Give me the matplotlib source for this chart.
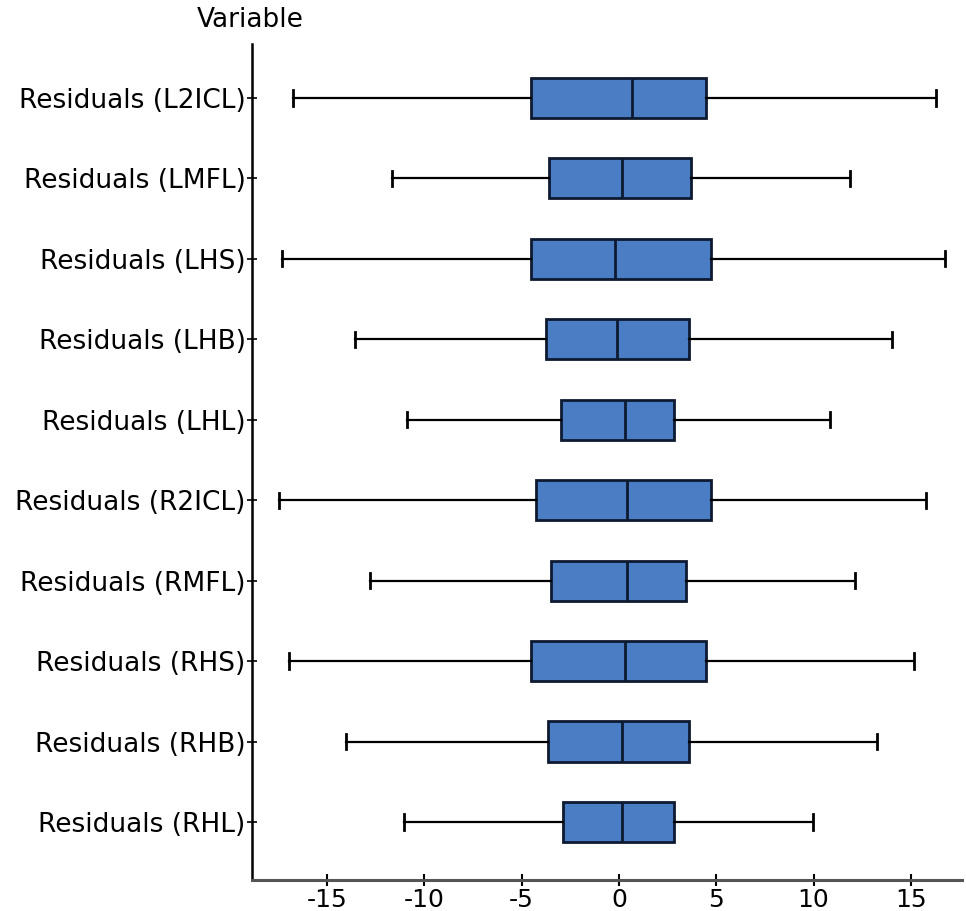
import matplotlib.pyplot as plt
import numpy as np

plt.rcParams['axes.unicode_minus'] = False
plt.rcParams['font.family'] = ['DejaVu Sans']

labels = ['Residuals (L2ICL)', 'Residuals (LMFL)', 'Residuals (LHS)', 'Residuals (LHB)',
          'Residuals (LHL)', 'Residuals (R2ICL)', 'Residuals (RMFL)', 'Residuals (RHS)',
          'Residuals (RHB)', 'Residuals (RHL)']
whislo = [-16.74, -11.65, -17.33, -13.55, -10.91, -17.46, -12.80, -16.96, -14.05, -11.03]
q1 = [-4.51, -3.61, -4.51, -3.75, -2.98, -4.25, -3.49, -4.51, -3.63, -2.88]
med = [0.69, 0.17, -0.19, -0.09, 0.29, 0.43, 0.43, 0.31, 0.17, 0.17]
q3 = [4.47, 3.70, 4.71, 3.58, 2.81, 4.71, 3.46, 4.47, 3.58, 2.81]
whishi = [16.27, 11.85, 16.77, 14.01, 10.86, 15.76, 12.11, 15.14, 13.24, 9.97]
xticks = [-15, -10, -5, 0, 5, 10, 15]

stats = []
for i in range(len(labels)):
    stats.append({'label': labels[i], 'whislo': whislo[i], 'q1': q1[i], 'med': med[i],
                  'q3': q3[i], 'whishi': whishi[i], 'fliers': []})

fig = plt.figure(figsize=(9.66, 9.11), dpi=100)
ax = fig.add_axes([252/966, 31/911, 710/966, 836/911])

pos = np.arange(len(labels))
ax.bxp(stats, positions=pos, vert=False, widths=0.5, capwidths=0.19,
       patch_artist=True, showfliers=False,
       boxprops=dict(facecolor='#4a7dc3', edgecolor='#0d1a30', linewidth=2),
       medianprops=dict(color='#0d1a30', linewidth=2),
       whiskerprops=dict(color='black', linewidth=1.6),
       capprops=dict(color='black', linewidth=2))

ax.set_ylim(len(labels) - 1 + 0.72, -0.67)
ax.set_xlim(-18.86, 17.63)
ax.set_xticks(xticks)
ax.set_xticklabels([str(t) for t in xticks])
ax.set_yticks(pos)
ax.set_yticklabels(labels)

for s in ['top', 'right']:
    ax.spines[s].set_visible(False)
ax.spines['left'].set_linewidth(1.8)
ax.spines['bottom'].set_linewidth(2.2)
ax.spines['bottom'].set_color('#555555')
ax.tick_params(axis='x', direction='inout', length=9, width=1.5, labelsize=18, pad=1)
ax.tick_params(axis='y', direction='inout', length=7, width=1.2, labelsize=19, pad=1)

fig.text(250/966, 1 - 20/911, 'Variable', ha='center', va='center', fontsize=19)

plt.savefig('out.png', dpi=100)
